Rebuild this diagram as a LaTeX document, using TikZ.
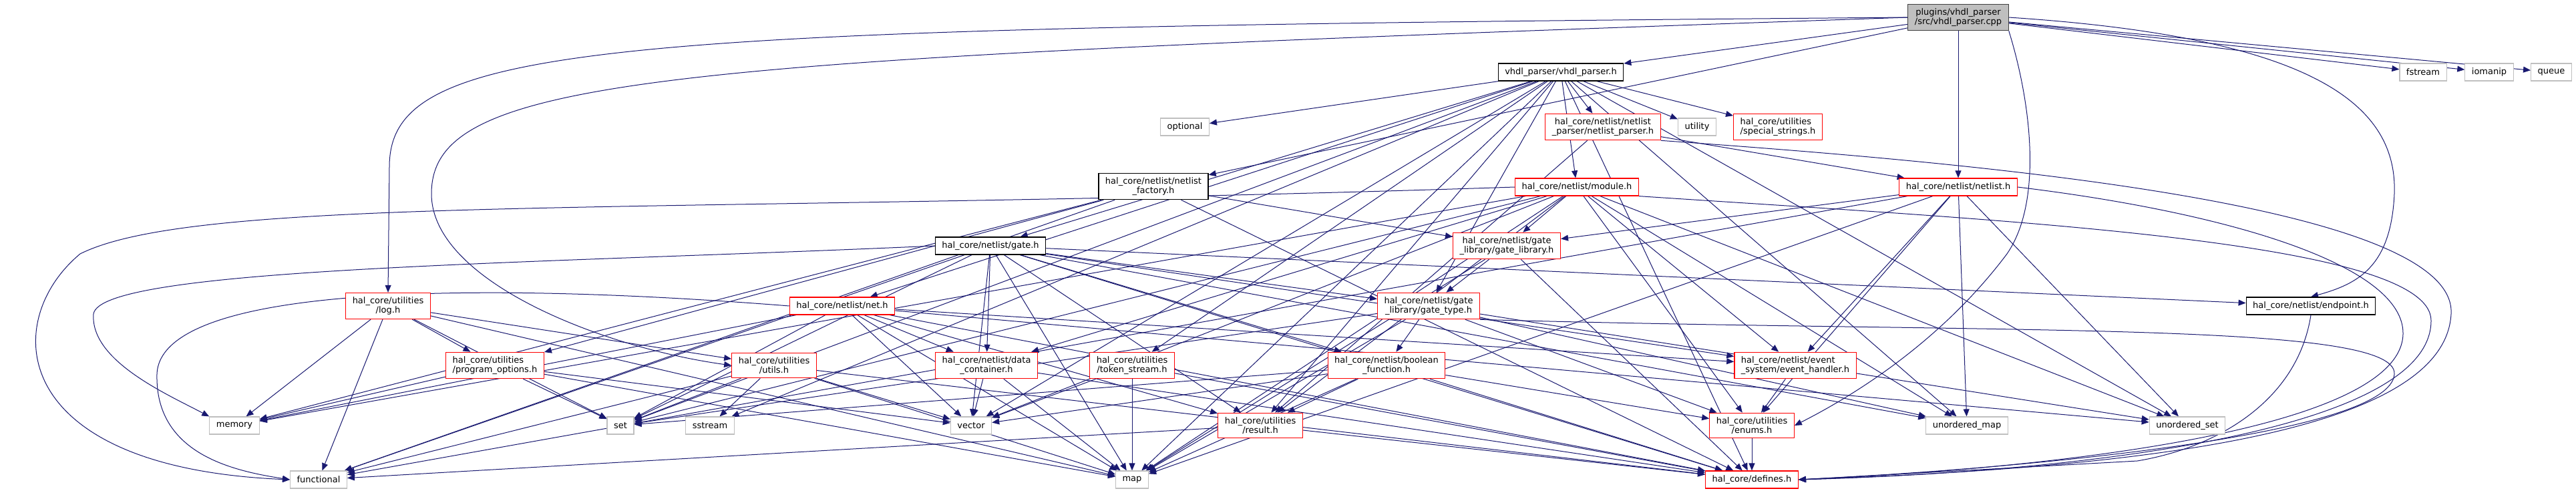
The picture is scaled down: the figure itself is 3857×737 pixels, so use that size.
\documentclass[tikz,border=0pt]{standalone}
\usepackage{fontspec}
\setmainfont{DejaVu Sans}
\usepackage{tikz}
\usetikzlibrary{arrows.meta, positioning, backgrounds}

\definecolor{deplink}{HTML}{191970}
\definecolor{boxgray}{HTML}{BFBFBF}
\definecolor{rootedge}{HTML}{404040}

\begin{document}
\begin{tikzpicture}[x=1pt, y=-1pt]

% --- Define Styles ---
\tikzstyle{file} = [rectangle, align=center, inner xsep=10pt, inner ysep=6pt, minimum height=26pt, fill=white, line width=1.2pt, font=\fontsize{13}{14.5}\selectfont]
\tikzstyle{rootfile} = [file, draw=rootedge, fill=boxgray]
\tikzstyle{fullheader} = [file, draw=black]
\tikzstyle{cutheader} = [file, draw=red]
\tikzstyle{stdheader} = [file, draw=boxgray]
\tikzstyle{arrow} = [draw=deplink, line width=1pt, ->, >={Triangle[length=11pt,width=9pt]}]

\useasboundingbox (0,0) rectangle (3857,737);

% --- Nodes ---
\node (root) [rootfile] at (2932,26) {plugins/vhdl\_parser\\/src/vhdl\_parser.cpp};

\node (vhdlh) [fullheader] at (2337,108) {vhdl\_parser/vhdl\_parser.h};
\node (fstream) [stdheader] at (3628,108) {fstream};
\node (iomanip) [stdheader] at (3727,108) {iomanip};
\node (queue) [stdheader] at (3820,108) {queue};

\node (optional) [stdheader] at (1774,190) {optional};
\node (nlparser) [cutheader] at (2400,190) {hal\_core/netlist/netlist\\\_parser/netlist\_parser.h};
\node (utility) [stdheader] at (2541,190) {utility};
\node (specstr) [cutheader, align=left] at (2662,190) {hal\_core/utilities\\/special\_strings.h};

\node (factory) [fullheader] at (1727,279) {hal\_core/netlist/netlist\\\_factory.h};
\node (module) [cutheader] at (2361,280) {hal\_core/netlist/module.h};
\node (netlist) [cutheader] at (2932,280) {hal\_core/netlist/netlist.h};

\node (gate) [fullheader] at (1483,368) {hal\_core/netlist/gate.h};
\node (gatelib) [cutheader] at (2256,368) {hal\_core/netlist/gate\\\_library/gate\_library.h};

\node (logh) [cutheader] at (581,458) {hal\_core/utilities\\/log.h};
\node (net) [cutheader] at (1261,458) {hal\_core/netlist/net.h};
\node (gatetype) [cutheader] at (2139,458) {hal\_core/netlist/gate\\\_library/gate\_type.h};
\node (endpoint) [fullheader] at (3460,458) {hal\_core/netlist/endpoint.h};

\node (progopt) [cutheader, align=left] at (741,547) {hal\_core/utilities\\/program\_options.h};
\node (utils) [cutheader] at (1159,547) {hal\_core/utilities\\/utils.h};
\node (datacont) [cutheader] at (1477,547) {hal\_core/netlist/data\\\_container.h};
\node (tokens) [cutheader] at (1695,547) {hal\_core/utilities\\/token\_stream.h};
\node (boolfn) [cutheader] at (2076,547) {hal\_core/netlist/boolean\\\_function.h};
\node (events) [cutheader, align=left] at (2688,547) {hal\_core/netlist/event\\\_system/event\_handler.h};

\node (memory) [stdheader] at (351,637) {memory};
\node (set) [stdheader] at (929,637) {set};
\node (sstream) [stdheader] at (1063,637) {sstream};
\node (vector) [stdheader] at (1454,637) {vector};
\node (result) [cutheader] at (1887,637) {hal\_core/utilities\\/result.h};
\node (enums) [cutheader] at (2623,637) {hal\_core/utilities\\/enums.h};
\node (umap) [stdheader] at (2945,637) {unordered\_map};
\node (uset) [stdheader] at (3275,637) {unordered\_set};

\node (functional) [stdheader] at (477,718) {functional};
\node (map) [stdheader] at (1695,718) {map};
\node (defines) [cutheader] at (2623,718) {hal\_core/defines.h};

% --- Arrows ---
\begin{scope}[on background layer]
\draw [arrow] (root) -- (vhdlh);
\draw [arrow] (root) -- (fstream);
\draw [arrow] (root) -- (iomanip);
\draw [arrow] (root) -- (queue);
\draw [arrow] (root) -- (factory);
\draw [arrow] (root) -- (netlist);
\draw [arrow] (root.east) .. controls (3450,55) and (3590,150) .. (3585,290) .. controls (3580,400) and (3530,425) .. (endpoint.north);
\draw [arrow] (root.west) .. controls (900,42) and (583,60) .. (583,250) -- (logh.north);
\draw [arrow] (root.west) .. controls (1000,90) and (646,110) .. (646,290) .. controls (646,420) and (900,520) .. (utils.west);
\draw [arrow] (root.south east) .. controls (3040,150) and (3060,300) .. (3005,380) .. controls (2900,520) and (2760,600) .. (enums.east);

\draw [arrow] (vhdlh) -- (optional);
\draw [arrow] (vhdlh) -- (nlparser);
\draw [arrow] (vhdlh) -- (utility);
\draw [arrow] (vhdlh) -- (specstr);
\draw [arrow] (vhdlh) -- (module);
\draw [arrow] (vhdlh) -- (gatetype);
\draw [arrow] (vhdlh) -- (gate);
\draw [arrow] (vhdlh) -- (net);
\draw [arrow] (vhdlh) -- (tokens);
\draw [arrow] (vhdlh) -- (result);
\draw [arrow] (vhdlh) -- (sstream);
\draw [arrow] (vhdlh) -- (defines);
\draw [arrow] (vhdlh) -- (umap);
\draw [arrow] (vhdlh) -- (uset);
\draw [arrow] (vhdlh) -- (map);
\draw [arrow] (vhdlh) -- (set);
\draw [arrow] (vhdlh) -- (vector);

\draw [arrow] (nlparser) -- (netlist);
\draw [arrow] (nlparser.south east) .. controls (2900,240) and (3680,300) .. (3670,470) .. controls (3660,650) and (3200,700) .. (defines.east);
\draw [arrow] (nlparser) -- (result);

\draw [arrow] (factory) -- (gatelib);
\draw [arrow] (factory) -- (progopt);
\draw [arrow] (factory) -- (memory);
\draw [arrow] (factory) -- (functional);
\draw [arrow] (factory) -- (defines);

\draw [arrow] (module) -- (gatelib);
\draw [arrow] (module) -- (datacont);
\draw [arrow] (module) -- (events);
\draw [arrow] (module) -- (result);
\draw [arrow] (module) -- (enums);
\draw [arrow] (module.south east) .. controls (3000,330) and (3640,360) .. (3640,480) .. controls (3640,640) and (3150,705) .. (defines.east);
\draw [arrow] (module) -- (memory);
\draw [arrow] (module.west) .. controls (1000,322) and (300,290) .. (120,380) .. controls (0,480) and (10,700) .. (functional.west);
\draw [arrow] (module) -- (set);
\draw [arrow] (module) -- (map);
\draw [arrow] (module) -- (umap);
\draw [arrow] (module) -- (uset);
\draw [arrow] (module) -- (vector);

\draw [arrow] (netlist) -- (gatelib);
\draw [arrow] (netlist) -- (events);
\draw [arrow] (netlist) -- (enums);
\draw [arrow] (netlist.east) .. controls (3350,320) and (3600,400) .. (3598,500) .. controls (3595,640) and (3100,700) .. (defines.east);
\draw [arrow] (netlist) -- (map);
\draw [arrow] (netlist) -- (umap);
\draw [arrow] (netlist) -- (uset);
\draw [arrow] (netlist) -- (functional);

\draw [arrow] (gatelib) -- (gatetype);
\draw [arrow] (gatelib) -- (defines);
\draw [arrow] (gatelib) -- (map);

\draw [arrow] (gate) -- (datacont);
\draw [arrow] (gate) -- (gatetype);
\draw [arrow] (gate) -- (boolfn);
\draw [arrow] (gate) -- (endpoint);
\draw [arrow] (gate) -- (events);
\draw [arrow] (gate.west) .. controls (800,395) and (150,400) .. (140,470) .. controls (135,540) and (250,590) .. (memory.north west);
\draw [arrow] (gate) -- (functional);
\draw [arrow] (gate) -- (map);
\draw [arrow] (gate) -- (set);
\draw [arrow] (gate) -- (vector);
\draw [arrow] (gate) -- (umap);
\draw [arrow] (gate) -- (defines);
\draw [arrow] (gate) -- (result);

\draw [arrow] (net) -- (datacont);
\draw [arrow] (net) -- (events);
\draw [arrow] (net) -- (memory);
\draw [arrow] (net.west) .. controls (700,420) and (240,428) .. (235,560) .. controls (232,680) and (350,705) .. (functional.west);
\draw [arrow] (net) -- (map);
\draw [arrow] (net) -- (set);
\draw [arrow] (net) -- (uset);
\draw [arrow] (net) -- (vector);
\draw [arrow] (net) -- (defines);
\draw [arrow] (net) -- (result);

\draw [arrow] (endpoint.south) .. controls (3440,600) and (3320,670) .. (3200,690) -- (defines.east);

\draw [arrow] (gatetype) -- (boolfn);
\draw [arrow] (gatetype) -- (enums);
\draw [arrow] (gatetype.south east) .. controls (3000,500) and (3590,480) .. (3585,560) .. controls (3580,650) and (3050,700) .. (defines.east);
\draw [arrow] (gatetype) -- (map);
\draw [arrow] (gatetype) -- (set);
\draw [arrow] (gatetype) -- (uset);
\draw [arrow] (gatetype) -- (umap);

\draw [arrow] (logh) -- (utils);
\draw [arrow] (logh) -- (progopt);
\draw [arrow] (logh) -- (memory);
\draw [arrow] (logh) -- (functional);
\draw [arrow] (logh) -- (set);
\draw [arrow] (logh) -- (map);

\draw [arrow] (progopt) -- (memory);
\draw [arrow] (progopt) -- (set);
\draw [arrow] (progopt) -- (map);
\draw [arrow] (progopt) -- (vector);

\draw [arrow] (utils) -- (set);
\draw [arrow] (utils) -- (sstream);
\draw [arrow] (utils) -- (functional);
\draw [arrow] (utils) -- (vector);
\draw [arrow] (utils) -- (map);
\draw [arrow] (utils) -- (defines);

\draw [arrow] (datacont) -- (vector);
\draw [arrow] (datacont) -- (map);
\draw [arrow] (datacont) -- (defines);

\draw [arrow] (tokens) -- (vector);
\draw [arrow] (tokens) -- (map);
\draw [arrow] (tokens) -- (defines);

\draw [arrow] (boolfn) -- (result);
\draw [arrow] (boolfn) -- (enums);
\draw [arrow] (boolfn) -- (map);
\draw [arrow] (boolfn) -- (defines);
\draw [arrow] (boolfn) -- (vector);
\draw [arrow] (boolfn) -- (set);

\draw [arrow] (events) -- (enums);
\draw [arrow] (enums) -- (defines);
\draw [arrow] (result) -- (functional);
\draw [arrow] (result) -- (defines);
\end{scope}

\end{tikzpicture}
\end{document}
